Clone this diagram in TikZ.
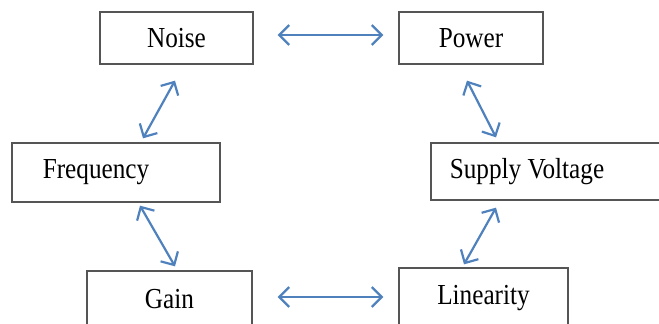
\documentclass[tikz,border=0pt]{standalone}
\usepackage{fontspec}
\setmainfont{Liberation Serif}[FakeStretch=0.87]
\usetikzlibrary{arrows.meta,calc,positioning}
\definecolor{blockink}{HTML}{555555}
\definecolor{linkblue}{HTML}{4F81BD}
\tikzset{
  every picture/.style={font=\fontsize{29}{34}\selectfont},
  block/.style={rectangle,draw=blockink,fill=white,line width=1.3pt,
    inner sep=0pt,text=black},
  link/.style={draw=linkblue,line width=2.2pt,
    {Straight Barb[length=10pt,width=20pt]}-{Straight Barb[length=10pt,width=20pt]}},
}
\begin{document}
\begin{tikzpicture}[x=1pt,y=-1pt]
  \path[use as bounding box] (0,0) rectangle (659,324);
  % six trade-off blocks, two columns
  \node[block,minimum width=153pt,minimum height=52pt] (noise) at (176.5,38) {Noise};
  \node[block,minimum width=144pt,minimum height=52pt] (power) at (471,38) {Power};
  \node[block,minimum width=208pt,minimum height=59pt] (freq) at (116,172.5) {Frequency\kern40pt};
  \node[block,minimum width=234pt,minimum height=57pt] (supply) at (548,171.5) {Supply Voltage\kern42pt};
  \node[block,minimum width=165pt,minimum height=56pt] (gain) at (169.5,299) {Gain};
  \node[block,minimum width=169pt,minimum height=60pt] (lin) at (483.5,298) {Linearity};
  % double-headed links
  \draw[link] ([shift={(24,-3)}]noise.east) -- ([shift={(-15,-3)}]power.west);
  \draw[link] ([shift={(-1.5,16)}]noise.south) -- ([shift={(27,-4)}]freq.north);
  \draw[link] ([shift={(-4,16)}]power.south) -- ([shift={(-52,-5)}]supply.north);
  \draw[link] ([shift={(24,3)}]freq.south) -- ([shift={(5.5,-4)}]gain.north);
  \draw[link] ([shift={(-52,7)}]supply.south) -- ([shift={(-19.5,-3)}]lin.north);
  \draw[link] ([shift={(25,-2)}]gain.east) -- ([shift={(-15,-1)}]lin.west);
\end{tikzpicture}
\end{document}
